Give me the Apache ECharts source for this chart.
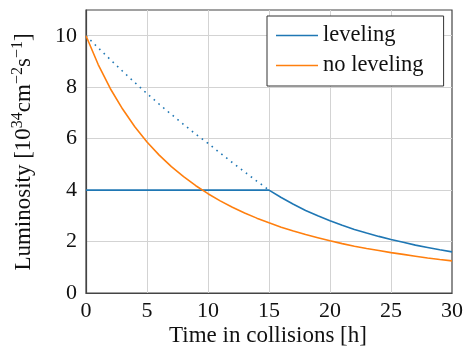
<!DOCTYPE html>
<html>
<head>
<meta charset="utf-8">
<script src="https://cdn.jsdelivr.net/npm/echarts@6/dist/echarts.min.js"></script>
<style>html,body{margin:0;padding:0;background:#fff}#c{width:467px;height:356px}</style>
</head>
<body>
<div id="c"></div>
<script>
var hours = [0,1,2,3,4,5,6,7,8,9,10,11,12,13,14,15,16,17,18,19,20,21,22,23,24,25,26,27,28,29,30];
var noLeveling = [10,8.88,7.94,7.15,6.46,5.87,5.36,4.91,4.52,4.17,3.86,3.58,3.33,3.11,2.91,2.73,2.56,2.41,2.27,2.15,2.03,1.92,1.82,1.73,1.65,1.57,1.50,1.43,1.36,1.30,1.25];
var leveling = [4,4,4,4,4,4,4,4,4,4,4,4,4,4,4,4,3.71,3.45,3.21,3.00,2.81,2.63,2.47,2.33,2.20,2.08,1.97,1.86,1.77,1.68,1.60];
var virtualHours = [0,1,2,3,4,5,6,7,8,9,10,11,12,13,14,15];
var virtualLumi = [10,9.53,9.07,8.62,8.18,7.75,7.34,6.94,6.55,6.17,5.82,5.44,5.07,4.71,4.35,4.0];
var xTicks = [0,5,10,15,20,25,30];
var yTicks = [0,2,4,6,8,10];

function pairs(xs, ys){ return xs.map(function(x,i){ return [x, ys[i]]; }); }

var FONT = '"Liberation Serif", "DejaVu Serif", serif';
var BLUE = '#1f77b4', ORANGE = '#ff7f0e';
var chart = echarts.init(document.getElementById('c'), null, {renderer:'canvas'});
chart.setOption({
  animation:false,
  backgroundColor:'#fff',
  grid:{left:86, right:15, top:10, bottom:63, show:true, borderColor:'#444', borderWidth:1.2, backgroundColor:'transparent'},
  xAxis:{type:'value', min:0, max:30, interval:5,
    axisLine:{show:true, lineStyle:{color:'#444', width:1.2}},
    axisTick:{show:false},
    axisLabel:{margin:7, color:'#111', fontFamily:FONT, fontSize:22,
      formatter:function(v){ return xTicks.indexOf(v) >= 0 ? String(v) : ''; }},
    splitLine:{show:true, showMinLine:false, showMaxLine:false, lineStyle:{color:'#d3d3d3', width:1}}
  },
  yAxis:{type:'value', min:0, max:11, interval:2,
    axisLine:{show:true, lineStyle:{color:'#444', width:1.2}},
    axisTick:{show:false},
    axisLabel:{margin:9, color:'#111', fontFamily:FONT, fontSize:22, showMaxLabel:false,
      formatter:function(v){ return yTicks.indexOf(v) >= 0 ? String(v) : ''; }},
    splitLine:{show:true, showMinLine:false, showMaxLine:false, lineStyle:{color:'#d3d3d3', width:1}}
  },
  legend:{orient:'vertical', left:267, top:16, data:['leveling','no leveling'],
    icon:'rect', itemWidth:42, itemHeight:1.6, itemGap:7,
    padding:[8,20,9,9], borderColor:'#333', borderWidth:1, backgroundColor:'#fff',
    textStyle:{fontFamily:FONT, fontSize:22.5, color:'#111'}},
  graphic:[
    {type:'text', x:268, y:336, style:{text:'Time in collisions [h]', font:'23px ' + FONT, fill:'#111', align:'center', verticalAlign:'middle'}},
    {type:'text', x:24, y:152, rotation:Math.PI/2, style:{
      text:'Luminosity [10{s|34}cm{s|\u22122}s{s|\u22121}]',
      font:'23px ' + FONT, fill:'#111', align:'center', verticalAlign:'middle',
      rich:{s:{fontSize:16, fontFamily:FONT, verticalAlign:'top', lineHeight:29, fill:'#111'}}
    }}
  ],
  series:[
    {name:'virtual', type:'line', data:pairs(virtualHours, virtualLumi), showSymbol:false, symbol:'none',
      lineStyle:{color:BLUE, width:1.6, type:[1.6,4.6]}, z:2, silent:true},
    {name:'leveling', type:'line', data:pairs(hours, leveling), showSymbol:false, symbol:'none',
      itemStyle:{color:BLUE}, lineStyle:{color:BLUE, width:1.6}, z:3},
    {name:'no leveling', type:'line', data:pairs(hours, noLeveling), showSymbol:false, symbol:'none',
      itemStyle:{color:ORANGE}, lineStyle:{color:ORANGE, width:1.6}, z:3}
  ]
});
</script>
</body>
</html>
